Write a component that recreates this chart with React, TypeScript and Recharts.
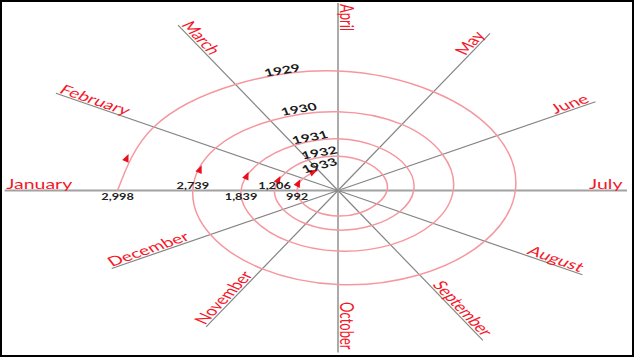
import React from 'react'
import { ComposedChart, Line, Scatter, XAxis, YAxis, ReferenceLine } from 'recharts'

const W = 634
const H = 357
// where the hub of the spokes sits, and how much wider than tall the drawing is
const CENTER_X = 338
const CENTER_Y = 190.5
const STRETCH = 1.675
const TEXT_STRETCH = 1.5

const MONTHS = [
  'January', 'February', 'March', 'April', 'May', 'June',
  'July', 'August', 'September', 'October', 'November', 'December',
]
const SPOKE_LENGTH = [199, 194.5, 191, 187.5, 181.5, 177.5, 172.5, 168.5, 173, 162, 157.5, 156]

const YEARS = ['1929', '1930', '1931', '1932', '1933']
// distance of the spiral from the hub on each month's spoke (drawing units)
const RING_1929 = [131.6, 127, 122.5, 119.5, 114, 109.7, 105.9, 101.2, 97.2, 94, 90.5, 88]
const RING_1930 = [86.7, 84.5, 80.5, 78.8, 76.3, 72.1, 68.8, 65.6, 62.8, 60.6, 58.8, 58]
const RING_1931 = [57.9, 54.5, 52.2, 51.8, 49.5, 47.3, 45.2, 42.5, 40.5, 39.6, 38.4, 37.8]
const RING_1932 = [37.9, 36, 35.2, 34.2, 32.8, 30.9, 29.3, 26.8, 25.9, 25.6, 24.9, 24.5]
const RING_1933 = [24.4, 24, 23.5]
const JANUARY_VALUES = ['2,998', '2,739', '1,839', '1,206', '992']

// arrowheads on the spiral: month position and distance
const ARROW_MONTH = [0.48, 0.48, 0.5, 0.55, 0.57, 1.72]
const ARROW_R = [130.2, 85.1, 56.4, 37.1, 24.8, 23.8]

// year captions: angle and distance
const YEAR_LABEL_ANGLE = [105.5, 106, 107.5, 106.5, 114]
const YEAR_LABEL_R = [125, 85, 56, 39.7, 27.5]

const FONT = 'Lato, "Open Sans", sans-serif'
const RED = '#f5182a'

const rad = (d: number) => (d * Math.PI) / 180
const deg = (r: number) => (r * 180) / Math.PI
const monthAngle = (m: number) => 180 - 30 * m
const polar = (a: number, r: number) => ({ x: r * Math.cos(rad(a)), y: r * Math.sin(rad(a)) })

const RINGS = [RING_1929, RING_1930, RING_1931, RING_1932, RING_1933]

const spiral = RINGS.flatMap((ring, yi) =>
  ring.map((r, m) => ({ year: YEARS[yi], month: MONTHS[m], ...polar(monthAngle(m), r) })),
)

// rotation (before the horizontal text stretch) that lines text up with a screen direction
const textRot = (dxp: number, dyp: number) => deg(Math.atan2(dyp, dxp / TEXT_STRETCH))

const spokes = MONTHS.map((name, i) => {
  const a = monthAngle(i)
  const c = Math.cos(rad(a))
  const s = Math.sin(rad(a))
  const inward = c < -1e-9 || (Math.abs(c) < 1e-9 && s > 0)
  const rot = inward ? textRot(-STRETCH * c, s) : textRot(STRETCH * c, -s)
  return { name, angle: a, inward, rot, ...polar(a, SPOKE_LENGTH[i]) }
})

const januaryPoints = JANUARY_VALUES.map((label, i) => ({
  label,
  below: i % 2 === 0,
  ...polar(180, RINGS[i][0]),
}))

const arrows = ARROW_MONTH.map((m, i) => ({ theta: monthAngle(m), ...polar(monthAngle(m), ARROW_R[i]) }))

const yearLabels = YEARS.map((year, i) => ({
  year,
  theta: YEAR_LABEL_ANGLE[i],
  ...polar(YEAR_LABEL_ANGLE[i], YEAR_LABEL_R[i]),
}))

// clockwise tangent of the spiral on screen
const tangent = (theta: number) => {
  const t = rad(theta)
  return [STRETCH * Math.sin(t), Math.cos(t)]
}

const stretched = (cx: number, cy: number, rot: number) =>
  `translate(${cx},${cy}) scale(${TEXT_STRETCH},1) rotate(${rot})`

const MonthLabel = (props: any) => {
  const { cx, cy, payload } = props
  return (
    <text
      transform={stretched(cx, cy, payload.rot)}
      x={payload.inward ? 1 : -3}
      y={-1.5}
      textAnchor={payload.inward ? 'start' : 'end'}
      fontFamily={FONT}
      fontSize={13}
      fill={RED}
    >
      {payload.name}
    </text>
  )
}

const ValueLabel = (props: any) => {
  const { cx, cy, payload } = props
  return (
    <text
      transform={stretched(cx, payload.below ? cy + 9.5 : cy - 1.5, 0)}
      textAnchor="middle"
      fontFamily={FONT}
      fontSize={8.5}
      fontWeight={700}
      fill="#222"
    >
      {payload.label}
    </text>
  )
}

const YearLabel = (props: any) => {
  const { cx, cy, payload } = props
  const [tx, ty] = tangent(payload.theta)
  return (
    <text
      transform={stretched(cx, cy, textRot(tx, ty))}
      y={4}
      textAnchor="middle"
      fontFamily={FONT}
      fontSize={10.5}
      fontWeight={700}
      fill="#1a1a1a"
    >
      {payload.year}
    </text>
  )
}

const Arrow = (props: any) => {
  const { cx, cy, payload } = props
  const [tx, ty] = tangent(payload.theta)
  return (
    <polygon
      points="4.5,0 -3.5,-3.4 -3.5,3.4"
      fill="#e8101e"
      transform={`translate(${cx},${cy}) rotate(${deg(Math.atan2(ty, tx))})`}
    />
  )
}

export default function App() {
  const xDomain = [-CENTER_X / STRETCH, (W - CENTER_X) / STRETCH]
  const yDomain = [-(H - CENTER_Y), CENTER_Y]
  return (
    <div style={{ position: 'absolute', left: 0, top: 0, width: W, height: H, background: '#fff' }}>
      <ComposedChart width={W} height={H} margin={{ top: 0, right: 0, bottom: 0, left: 0 }}>
        <XAxis type="number" dataKey="x" domain={xDomain} allowDataOverflow hide />
        <YAxis type="number" dataKey="y" domain={yDomain} allowDataOverflow hide />

        {spokes.map((s) => {
          const straight = s.angle % 90 === 0
          return (
            <ReferenceLine
              key={s.name}
              segment={[{ x: 0, y: 0 }, { x: s.x, y: s.y }]}
              stroke={straight ? '#a2a2a2' : '#858585'}
              strokeWidth={straight ? 1.8 : 1.2}
            />
          )
        })}

        <Line
          data={spiral}
          dataKey="y"
          type="natural"
          stroke="#f5979e"
          strokeWidth={1.5}
          dot={false}
          activeDot={false}
          isAnimationActive={false}
        />

        <Scatter data={arrows} shape={<Arrow />} isAnimationActive={false} />
        <Scatter data={januaryPoints} shape={<ValueLabel />} isAnimationActive={false} />
        <Scatter data={yearLabels} shape={<YearLabel />} isAnimationActive={false} />
        <Scatter data={spokes} shape={<MonthLabel />} isAnimationActive={false} />
      </ComposedChart>
      <div
        style={{
          position: 'absolute',
          inset: 0,
          border: '2px solid #000',
          boxSizing: 'border-box',
          pointerEvents: 'none',
        }}
      />
    </div>
  )
}
